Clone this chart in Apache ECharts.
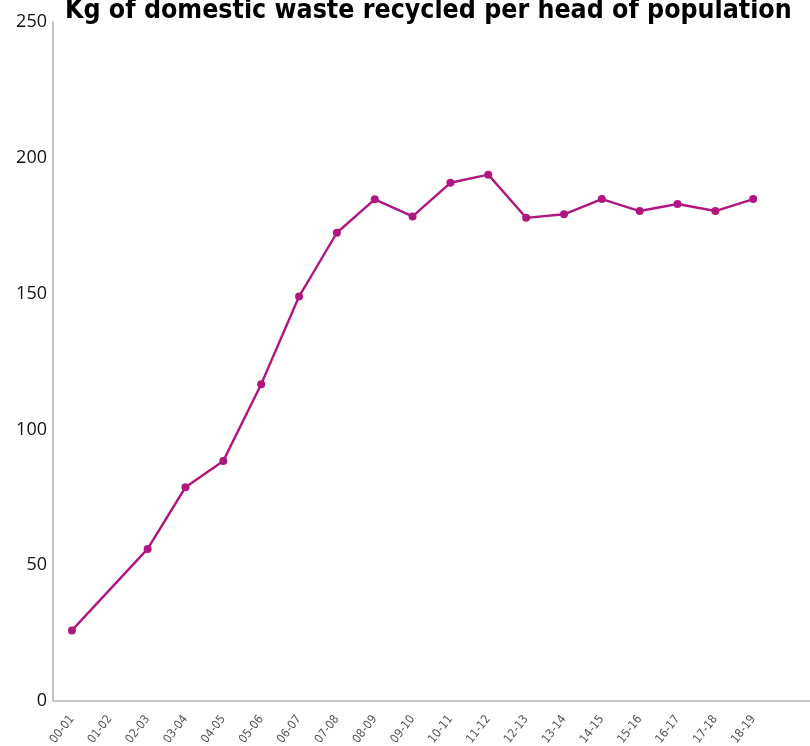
<!DOCTYPE html>
<html>
<head>
<meta charset="utf-8">
<script src="https://cdn.jsdelivr.net/npm/echarts@6/dist/echarts.min.js"></script>
<style>
  html, body { margin: 0; padding: 0; background: #fff; }
  #chart { width: 810px; height: 746px; }
</style>
</head>
<body>
<div id="chart"></div>
<script>
// Financial years; the trailing blank slot leaves room at the right end of the axis
const years = ['00-01','01-02','02-03','03-04','04-05','05-06','06-07','07-08','08-09','09-10',
               '10-11','11-12','12-13','13-14','14-15','15-16','16-17','17-18','18-19',''];
// Kg recycled per head (no figure for 01-02)
const kgPerHead = [26, null, 56, 78.7, 88.4, 116.6, 148.9, 172.4, 184.7, 178.4,
                   190.8, 193.8, 177.9, 179.2, 184.8, 180.4, 183.0, 180.4, 184.8, null];
const yTicks = [0, 50, 100, 150, 200, 250];

const condensed = "'DejaVu Sans Condensed', 'DejaVu Sans', sans-serif";

const chart = echarts.init(document.getElementById('chart'));
chart.setOption({
  animation: false,
  title: {
    text: 'Kg of domestic waste recycled per head of population',
    left: 60,
    top: -7,
    textStyle: {
      fontFamily: condensed,
      fontWeight: 'bold',
      fontSize: 26.5,
      color: '#000'
    }
  },
  grid: { left: 53, right: 0, top: 22, bottom: 45, containLabel: false, outerBoundsMode: 'none' },
  xAxis: {
    type: 'category',
    data: years,
    boundaryGap: true,
    axisLine: { lineStyle: { color: '#b3b3b3', width: 1.5 } },
    axisTick: { show: false },
    axisLabel: {
      rotate: 52,
      interval: 0,
      margin: 16,
      fontFamily: condensed,
      fontSize: 12,
      color: '#555'
    }
  },
  yAxis: {
    type: 'value',
    min: yTicks[0],
    max: yTicks[yTicks.length - 1],
    interval: 50,
    axisLine: { show: true, lineStyle: { color: '#b3b3b3', width: 1.5 } },
    axisTick: { show: false },
    splitLine: { show: false },
    axisLabel: {
      margin: 6,
      fontFamily: 'Open Sans',
      fontSize: 18,
      color: '#111'
    }
  },
  series: [{
    type: 'line',
    data: kgPerHead,
    connectNulls: true,
    symbol: 'circle',
    symbolSize: 8,
    lineStyle: { color: '#b0177e', width: 2.4 },
    itemStyle: { color: '#b0177e' }
  }]
});
</script>
</body>
</html>
